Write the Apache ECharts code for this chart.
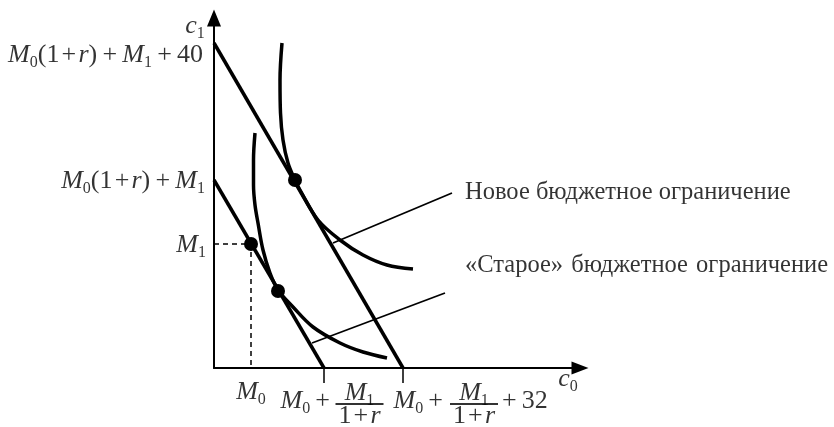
<!DOCTYPE html>
<html>
<head>
<meta charset="utf-8">
<script src="https://cdn.jsdelivr.net/npm/echarts@6.0.0/dist/echarts.min.js"></script>
<style>
  html, body { margin: 0; padding: 0; background: #fff; }
  #chart { width: 834px; height: 427px; }
</style>
</head>
<body>
<div id="chart"></div>
<script>
// Межвременной выбор: старое и новое бюджетное ограничение
// (1 единица по осям ≈ 1 px исходного рисунка)
const xMax = 366
const yMax = 350

const newBudget = [[0, 325], [189, 0]]
const oldBudget = [[0, 188], [110, 0]]

// кривые безразличия (точки)
const curveHigh = [[68, 325], [66, 288], [66.5, 255], [69, 228], [74, 205], [81, 188], [86, 178], [104, 148], [126, 128], [149, 113], [173, 103], [199, 99]]
const curveLow = [[41, 235], [39.5, 208], [39.5, 183], [41, 163], [44, 145], [49, 118], [56, 95], [64, 78], [79, 61], [99, 41], [126, 25], [149, 16], [173, 10]]

const optimumNew = [81, 188]
const optimumOld = [64, 77]
const endowment = [37, 124] // (M0, M1)

const leaderNew = [[119, 125], [238, 175]]
const leaderOld = [[98, 25], [231, 75]]

const xTickValues = [110, 189]
const yLabelValues = [325, 188, 124]

const serif = 'Liberation Serif'
const M0 = '{m|M}{s|0}'
const M1 = '{m|M}{s|1}'
const yLabelTexts = [
	M0 + '{n|(1\u200a+\u200a}{m|r}{n|)\u2009+\u2009}' + M1 + '{n|\u2009+\u200940}',
	M0 + '{n|(1\u200a+\u200a}{m|r}{n|)\u2009+\u2009}' + M1,
	M1,
]
const fraction = '{fm|M}{fs|1}\n{bar| }\n{fn|1\u200a+\u200a}{fi|r}'
const newLabel = 'Новое бюджетное ограничение'
const oldLabel = '«Старое» \u200aбюджетное \u200aограничение'

const rich = {
	m: { fontFamily: serif, fontStyle: 'italic', fontSize: 26, lineHeight: 28, color: '#000' },
	n: { fontFamily: serif, fontSize: 26, lineHeight: 28, color: '#000' },
	s: { fontFamily: serif, fontSize: 16, lineHeight: 18, padding: [15, 0, 0, 0], color: '#000' },
	fm: { fontFamily: serif, fontStyle: 'italic', fontSize: 26, lineHeight: 20, color: '#000' },
	fs: { fontFamily: serif, fontSize: 16, lineHeight: 14, padding: [15, 0, 0, 0], color: '#000' },
	bar: { width: 48, height: 2, lineHeight: 2, backgroundColor: '#000', fontSize: 2 },
	fn: { fontFamily: serif, fontSize: 26, lineHeight: 22, color: '#000' },
	fi: { fontFamily: serif, fontStyle: 'italic', fontSize: 26, lineHeight: 22, color: '#000' },
	t: { fontFamily: serif, fontSize: 24.5, lineHeight: 28, color: '#000' },
}

// подпись, привязанная к точке на осях
const note = (pos, text, offset, align) => ({
	value: pos,
	label: { formatter: () => text, offset: offset, align: align || 'center' },
})

const notes = [
	note([0, yMax], '{m|c}{s|1}', [-19, 8]),
	note([xMax, 0], '{m|c}{s|0}', [-12, 11]),
	note([0, yLabelValues[0]], yLabelTexts[0], [-11, 12.5], 'right'),
	note([0, yLabelValues[1]], yLabelTexts[1], [-9, 1.5], 'right'),
	note([0, yLabelValues[2]], yLabelTexts[2], [-8, 1], 'right'),
	note([endowment[0], 0], M0, [0, 24]),
	note([xTickValues[0], 0], M0 + '{n|\u2009+}', [6, 33.5], 'right'),
	note([xTickValues[0], 0], fraction, [35.5, 37]),
	note([xTickValues[1], 0], M0 + '{n|\u2009+}', [40, 33.5], 'right'),
	note([xTickValues[1], 0], fraction, [71, 37]),
	note([xTickValues[1], 0], '{n|+\u200932}', [99, 33.5], 'left'),
	note(leaderNew[1], '{t|' + newLabel + '}', [13, 0], 'left'),
	note(leaderOld[1], '{t|' + oldLabel + '}', [20, -27], 'left'),
]

const chart = echarts.init(document.getElementById('chart'))

const thick = { color: '#000', width: 3.5 }
const thin = { color: '#000', width: 1.8 }

chart.setOption({
	animation: false,
	backgroundColor: '#fff',
	grid: { left: 214, right: 254, top: 18, bottom: 59, outerBoundsMode: 'none' },
	xAxis: {
		type: 'value',
		min: 0,
		max: xMax,
		splitLine: { show: false },
		axisLabel: { show: false },
		axisLine: {
			onZero: false,
			lineStyle: { color: '#000', width: 2 },
			symbol: ['none', 'triangle'],
			symbolSize: [13, 17],
		},
		axisTick: {
			show: true,
			customValues: xTickValues,
			length: 15,
			lineStyle: { color: '#000', width: 1.5 },
		},
	},
	yAxis: {
		type: 'value',
		min: 0,
		max: yMax,
		splitLine: { show: false },
		axisLabel: { show: false },
		axisTick: { show: false },
		axisLine: {
			show: true,
			onZero: false,
			lineStyle: { color: '#000', width: 2 },
			symbol: ['none', 'triangle'],
			symbolSize: [14, 17],
		},
	},
	series: [
		{ type: 'line', data: newBudget, symbol: 'none', lineStyle: thick, silent: true },
		{ type: 'line', data: oldBudget, symbol: 'none', lineStyle: thick, silent: true },
		{ type: 'line', data: curveHigh, smooth: 0.35, symbol: 'none', lineStyle: thick, silent: true },
		{ type: 'line', data: curveLow, smooth: 0.35, symbol: 'none', lineStyle: thick, silent: true },
		{ type: 'line', data: leaderNew, symbol: 'none', lineStyle: thin, silent: true },
		{ type: 'line', data: leaderOld, symbol: 'none', lineStyle: thin, silent: true },
		{
			type: 'line',
			data: [[0, endowment[1]], endowment, [endowment[0], 0]],
			symbol: 'none',
			lineStyle: { color: '#000', width: 1.5, type: [5, 4] },
			silent: true,
		},
		{
			type: 'scatter',
			data: [optimumNew, optimumOld, endowment],
			symbolSize: 14,
			itemStyle: { color: '#000', opacity: 1 },
			z: 5,
			silent: true,
		},
		{
			type: 'scatter',
			data: notes,
			symbolSize: 1,
			itemStyle: { color: 'rgba(0,0,0,0)' },
			label: { show: true, position: 'inside', verticalAlign: 'middle', color: '#000', rich: rich },
			z: 6,
			silent: true,
		},
	],
})
</script>
</body>
</html>
